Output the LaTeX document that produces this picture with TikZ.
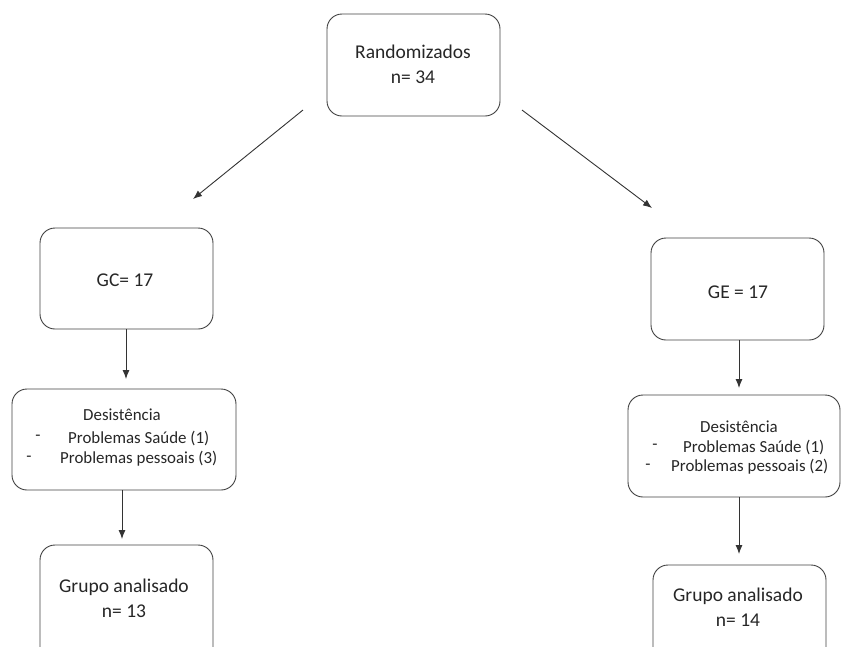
\documentclass[tikz,border=0pt]{standalone}
\usepackage{fontspec}
\setmainfont{Carlito}
\usetikzlibrary{arrows.meta}
\begin{document}
\begin{tikzpicture}[x=1pt,y=-1pt,
  box/.style={draw=black!75, line width=0.9pt, rounded corners=15pt},
  txt/.style={inner sep=0pt, font=\fontsize{19.5}{23}\selectfont, text=black!85},
  stxt/.style={inner sep=0pt, font=\fontsize{16.9}{20}\selectfont, text=black!85},
  arr/.style={draw=black!80, line width=0.9pt, -{Latex[length=9pt,width=7pt]}}]
\useasboundingbox (0,0) rectangle (841,646);
\clip (0,0) rectangle (841,646);
% boxes
\draw[box] (327,14) rectangle (500,116);
\node[txt] (r1) at (413,52) {Randomizados};
\node[txt] (r2) at (413,77) {n= 34};
\draw[box] (40,228) rectangle (213,329);
\node[txt] (gc) at (125,280) {GC= 17};
\draw[box] (651,238) rectangle (824,340);
\node[txt] (ge) at (738,292) {GE = 17};
\draw[box] (12,389) rectangle (236,490);
\node[stxt] (dl0) at (122,415) {Desistência};
\node[stxt] (dl1a) at (38,438) {-};
\node[stxt,anchor=west] (dl1) at (68,438) {Problemas Saúde (1)};
\node[stxt] (dl2a) at (29,459) {-};
\node[stxt,anchor=west] (dl2) at (60,459) {Problemas pessoais (3)};
\draw[box] (628,395) rectangle (840,497);
\node[stxt] (dr0) at (739,427) {Desistência};
\node[stxt] (dr1a) at (655,447) {-};
\node[stxt,anchor=west] (dr1) at (683,447) {Problemas Saúde (1)};
\node[stxt] (dr2a) at (648,467) {-};
\node[stxt,anchor=west] (dr2) at (671,467) {Problemas pessoais (2)};
\draw[box] (40,545) rectangle (213,662);
\node[txt] (gl1) at (124,587) {Grupo analisado};
\node[txt] (gl2) at (124,611) {n= 13};
\draw[box] (653,565) rectangle (826,680);
\node[txt] (gr1) at (738,596) {Grupo analisado};
\node[txt] (gr2) at (738,620) {n= 14};
% connectors
\coordinate (a1s) at (303,110); \coordinate (a1e) at (193,199);
\coordinate (a2s) at (522,110); \coordinate (a2e) at (652,208);
\draw[arr] (a1s) -- (a1e);
\draw[arr] (a2s) -- (a2e);
\coordinate (a3s) at (126,329); \coordinate (a3e) at (126,379);
\coordinate (a4s) at (122,490); \coordinate (a4e) at (122,539);
\coordinate (a5s) at (739,340); \coordinate (a5e) at (739,388);
\coordinate (a6s) at (739,497); \coordinate (a6e) at (739,554);
\draw[arr] (a3s) -- (a3e);
\draw[arr] (a4s) -- (a4e);
\draw[arr] (a5s) -- (a5e);
\draw[arr] (a6s) -- (a6e);
\end{tikzpicture}
\end{document}
